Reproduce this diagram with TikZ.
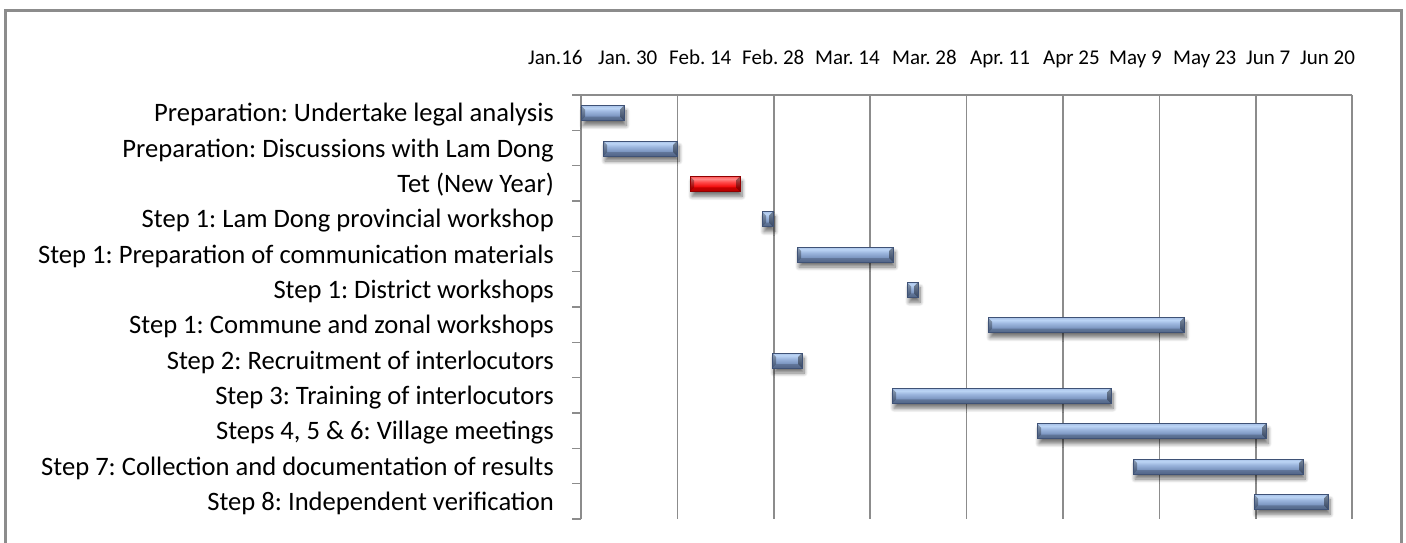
\documentclass[tikz,border=0pt]{standalone}
\usepackage{fontspec}
\setmainfont{Carlito}
\usetikzlibrary{shadows.blur}
\frenchspacing
\definecolor{framegray}{HTML}{8C8C8C}
\definecolor{gridgray}{HTML}{8C8C8C}
\definecolor{barborder}{HTML}{3F5276}
\definecolor{redborder}{HTML}{900000}
\definecolor{bA}{HTML}{465A7E}
\definecolor{bB}{HTML}{566C94}
\definecolor{bC}{HTML}{7690BB}
\definecolor{bD}{HTML}{9CB6DE}
\definecolor{bE}{HTML}{BCD5F5}
\definecolor{bF}{HTML}{A2BCE3}
\definecolor{bG}{HTML}{8AA5CF}
\definecolor{bH}{HTML}{7C97C2}
\definecolor{rA}{HTML}{B00000}
\definecolor{rB}{HTML}{D00000}
\definecolor{rC}{HTML}{F00000}
\definecolor{rD}{HTML}{FF4A4A}
\definecolor{rE}{HTML}{FF8A8A}
\definecolor{rF}{HTML}{FF4040}
\definecolor{rG}{HTML}{FF1A1A}
\definecolor{rH}{HTML}{F00000}
\pgfdeclareverticalshading{bluebar}{100bp}{color(0bp)=(bA); color(15bp)=(bB); color(38bp)=(bC); color(56bp)=(bD); color(67bp)=(bE); color(78bp)=(bF); color(90bp)=(bG); color(100bp)=(bH)}
\pgfdeclareverticalshading{redbar}{100bp}{color(0bp)=(rA); color(15bp)=(rB); color(38bp)=(rC); color(56bp)=(rD); color(67bp)=(rE); color(78bp)=(rF); color(90bp)=(rG); color(100bp)=(rH)}
\tikzset{
  rowlabel/.style={anchor=base east, inner sep=0pt, font=\fontsize{26.6}{30}\selectfont},
  datelabel/.style={anchor=base west, inner sep=0pt, font=\fontsize{21}{24}\selectfont},
  gridline/.style={draw=gridgray, line width=1.6pt},
  frameline/.style={draw=framegray, line width=3pt},
  barshadow/.style={blur shadow={shadow xshift=2pt, shadow yshift=-5pt, shadow blur steps=8, shadow blur radius=4pt, shadow opacity=55}},
  taskfill/.style={shading=bluebar, barshadow},
  holidayfill/.style={shading=redbar, barshadow},
  baredge/.style={draw=#1, line width=0.9pt}
}
\newcommand{\ganttbar}[5]{% fill style, edge colour, x1, x2, row
  \pgfmathsetmacro{\yt}{95+35.333*(#5-0.5)-7}
  \pgfmathsetmacro{\yb}{95+35.333*(#5-0.5)+8}
  \path[#1] (#3,\yt) rectangle (#4,\yb);
  \fill[black, opacity=0.30] (#3,\yt) -- (#3+4,\yt+4) -- (#3+4,\yb-4) -- (#3,\yb) -- cycle;
  \fill[black, opacity=0.40] (#4,\yt) -- (#4-4,\yt+4) -- (#4-4,\yb-4) -- (#4,\yb) -- cycle;
  \fill[black, opacity=0.18] (#3,\yb) -- (#3+4,\yb-4) -- (#4-4,\yb-4) -- (#4,\yb) -- cycle;
  \draw[baredge=#2] (#3,\yt) rectangle (#4,\yb);
}
\begin{document}
\begin{tikzpicture}[x=1pt, y=-1pt]
\useasboundingbox (0,0) rectangle (1406,542);
% frame
\draw[frameline] (5,545) -- (5,10) -- (1401,10) -- (1401,545);
% date labels
\node[datelabel] (d1) at (528,64) {Jan.16};
\node[datelabel] (d2) at (598,64) {Jan. 30};
\node[datelabel] (d3) at (669,64) {Feb. 14};
\node[datelabel] (d4) at (742,64) {Feb. 28};
\node[datelabel] (d5) at (815,64) {Mar. 14};
\node[datelabel] (d6) at (892,64) {Mar. 28};
\node[datelabel] (d7) at (970,64) {Apr. 11};
\node[datelabel] (d8) at (1043,64) {Apr 25};
\node[datelabel] (d9) at (1109,64) {May 9};
\node[datelabel] (d10) at (1173,64) {May 23};
\node[datelabel] (d11) at (1246,64) {Jun 7};
\node[datelabel] (d12) at (1300,64) {Jun 20};
% grid
\draw[gridline] (572,95) -- (1352,95);
\foreach \k in {0,...,8} {
  \draw[gridline] ({581+96.4*\k},95) -- ({581+96.4*\k},519);
}
\foreach \k in {0,...,12} {
  \draw[gridline] (572,{95+35.333*\k}) -- (581,{95+35.333*\k});
}
% row labels
\foreach \i/\t in {1/{Preparation: Undertake legal analysis},
  2/{Preparation: Discussions with Lam Dong},
  3/{Tet (New Year)},
  4/{Step 1: Lam Dong provincial workshop},
  5/{Step 1: Preparation of communication materials},
  6/{Step 1: District workshops},
  7/{Step 1: Commune and zonal workshops},
  8/{Step 2: Recruitment of interlocutors},
  9/{Step 3: Training of interlocutors},
  10/{Steps 4, 5 \& 6: Village meetings},
  11/{Step 7: Collection and documentation of results},
  12/{Step 8: Independent verification}} {
  \node[rowlabel] (l\i) at (554,{95+35.333*(\i-0.5)+9}) {\t};
}
% bars
\foreach \i/\a/\b in {1/581/624, 2/603/677, 4/762/773, 5/797/893, 6/907/918,
  7/988/1184, 8/772/802, 9/892/1111, 10/1037/1266, 11/1133/1303, 12/1254/1328} {
  \ganttbar{taskfill}{barborder}{\a}{\b}{\i}
}
\ganttbar{holidayfill}{redborder}{690}{740}{3}
\end{tikzpicture}
\end{document}
